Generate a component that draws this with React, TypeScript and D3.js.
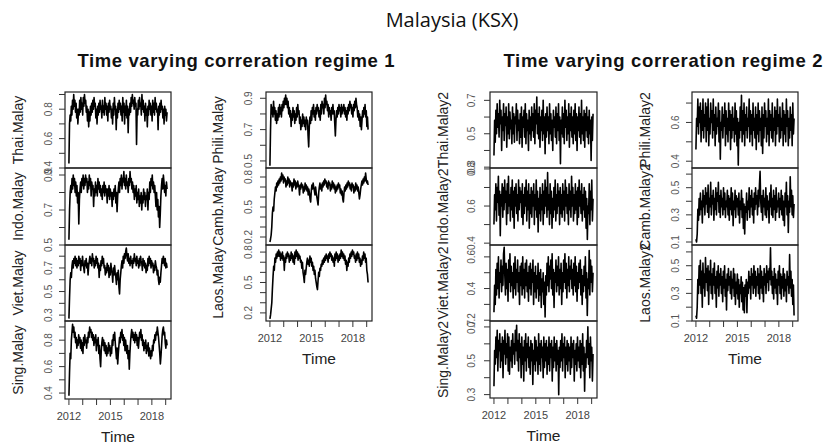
import React from 'react';
import * as d3 from 'd3';

// series run from the start of 2012 to early 2019
const timeStart = 2012;
const timeEnd = 2019.1;
const yearTicks = [2012, 2013, 2014, 2015, 2016, 2017, 2018, 2019];
const yearLabels = [2012, 2015, 2018];

// regime 1
const thai1 = [.43, .70, .76, .72, .82, .76, .86, .80, .90, .82, .86, .78, .84, .74, .80, .70, .80, .76, .86, .78, .88, .80, .84, .76, .88, .82, .90, .84, .86, .78, .82, .72, .80, .68, .78, .72, .82, .76, .84, .78, .86, .80, .88, .82, .84, .74, .80, .70, .82, .76, .84, .78, .86, .80, .82, .74, .86, .78, .82, .76, .88, .80, .84, .76, .82, .72, .84, .78, .86, .80, .82, .74, .80, .70, .84, .76, .88, .80, .82, .66, .80, .74, .84, .78, .86, .80, .84, .76, .82, .72, .88, .78, .84, .70, .82, .76, .86, .74, .82, .64, .80, .76, .84, .78, .88, .82, .90, .84, .86, .80, .88, .82, .84, .56, .80, .76, .86, .80, .88, .82, .84, .76, .90, .80, .86, .78, .82, .72, .84, .76, .80, .68, .82, .76, .86, .80, .84, .76, .82, .72, .86, .78, .84, .76, .88, .80, .84, .78, .80, .66, .82, .76, .84, .78, .86, .80, .82, .74, .80, .70, .82, .76, .80, .72, .78];
const indo1 = [.53, .70, .80, .84, .80, .88, .82, .90, .84, .88, .80, .86, .78, .84, .74, .80, .62, .76, .82, .86, .80, .88, .84, .90, .82, .88, .84, .90, .86, .88, .80, .86, .82, .90, .84, .88, .78, .86, .82, .84, .72, .82, .78, .86, .80, .84, .78, .88, .82, .86, .80, .84, .78, .82, .76, .84, .80, .86, .78, .84, .80, .82, .74, .82, .78, .84, .76, .82, .78, .80, .72, .80, .76, .82, .78, .84, .74, .80, .69, .78, .82, .86, .80, .88, .84, .90, .82, .88, .86, .92, .84, .88, .82, .90, .84, .86, .80, .88, .84, .92, .86, .88, .82, .86, .80, .84, .76, .82, .78, .84, .74, .80, .76, .82, .72, .78, .74, .80, .70, .78, .74, .82, .76, .80, .72, .78, .76, .82, .70, .80, .76, .86, .80, .88, .84, .90, .82, .86, .80, .84, .78, .72, .80, .70, .76, .66, .72, .60, .68, .78, .84, .88, .82, .90, .86, .80, .84, .78, .86, .82];
const viet1 = [.27, .45, .60, .66, .62, .72, .76, .70, .78, .74, .80, .72, .78, .70, .76, .72, .80, .74, .78, .68, .76, .72, .80, .74, .70, .66, .76, .72, .78, .70, .74, .64, .72, .76, .80, .74, .78, .72, .82, .76, .78, .70, .76, .72, .80, .74, .78, .70, .74, .62, .72, .68, .76, .72, .80, .74, .78, .70, .72, .64, .70, .66, .74, .68, .72, .62, .70, .64, .74, .68, .66, .58, .70, .64, .72, .66, .62, .56, .66, .60, .68, .54, .48, .60, .66, .72, .76, .70, .80, .74, .82, .78, .84, .87, .80, .76, .82, .74, .78, .72, .80, .74, .76, .70, .78, .74, .82, .76, .78, .72, .80, .74, .76, .70, .78, .72, .80, .76, .74, .68, .78, .72, .76, .70, .74, .66, .72, .68, .78, .72, .80, .74, .78, .70, .76, .72, .74, .66, .72, .68, .76, .72, .70, .64, .68, .60, .56, .62, .58, .66, .72, .78, .74, .80, .76, .72, .78, .70, .74, .70];
const sing1 = [.38, .56, .70, .66, .80, .86, .92, .86, .90, .82, .86, .78, .82, .74, .80, .76, .84, .78, .82, .74, .80, .72, .78, .70, .82, .76, .84, .78, .80, .74, .82, .78, .86, .82, .90, .86, .88, .82, .86, .80, .84, .76, .82, .78, .84, .72, .80, .76, .82, .70, .76, .66, .60, .72, .78, .82, .76, .80, .72, .78, .70, .76, .68, .74, .70, .78, .72, .76, .68, .74, .70, .80, .76, .84, .80, .86, .78, .72, .66, .74, .62, .70, .76, .82, .78, .86, .82, .88, .80, .84, .76, .82, .72, .80, .74, .70, .76, .66, .72, .58, .70, .78, .84, .88, .82, .86, .80, .84, .78, .86, .80, .84, .76, .82, .74, .80, .86, .82, .88, .80, .84, .76, .80, .72, .78, .74, .80, .70, .76, .72, .78, .68, .74, .70, .66, .72, .68, .76, .72, .80, .78, .84, .80, .86, .84, .90, .86, .82, .76, .70, .62, .68, .76, .84, .88, .90, .84, .86, .78, .74, .80, .76];
const phili1 = [.47, .70, .86, .80, .84, .78, .88, .80, .84, .76, .82, .74, .80, .76, .84, .78, .86, .80, .84, .78, .86, .82, .88, .84, .90, .86, .92, .86, .90, .84, .88, .80, .84, .78, .82, .72, .80, .76, .84, .78, .82, .74, .80, .76, .84, .78, .86, .80, .82, .74, .78, .70, .76, .72, .80, .74, .78, .72, .76, .70, .78, .74, .76, .66, .59, .72, .78, .74, .82, .76, .84, .80, .86, .78, .82, .76, .84, .80, .86, .82, .84, .78, .82, .76, .86, .80, .88, .84, .86, .80, .90, .84, .92, .86, .88, .82, .86, .78, .84, .80, .82, .76, .84, .80, .86, .80, .82, .74, .66, .76, .82, .78, .84, .80, .86, .82, .84, .78, .86, .80, .84, .82, .86, .80, .84, .78, .82, .76, .84, .80, .86, .82, .88, .84, .86, .80, .84, .78, .86, .82, .88, .84, .90, .86, .84, .78, .82, .76, .80, .72, .78, .70, .76, .82, .78, .84, .80, .86, .78, .82, .72, .78, .70];
const camb1 = [.15, .18, .22, .30, .44, .50, .46, .58, .64, .70, .66, .74, .70, .76, .72, .78, .74, .80, .76, .84, .78, .82, .74, .80, .76, .78, .70, .76, .72, .80, .74, .78, .70, .76, .72, .74, .66, .74, .70, .78, .72, .76, .68, .74, .70, .76, .72, .70, .62, .72, .68, .74, .70, .72, .64, .70, .66, .74, .68, .72, .66, .70, .62, .68, .64, .58, .55, .66, .72, .68, .74, .70, .66, .62, .70, .64, .60, .56, .52, .64, .70, .74, .68, .72, .66, .74, .70, .76, .72, .78, .74, .76, .70, .74, .68, .76, .72, .74, .66, .72, .68, .76, .70, .74, .68, .72, .64, .70, .66, .72, .68, .74, .70, .72, .64, .68, .62, .66, .58, .55, .64, .70, .66, .72, .68, .74, .70, .76, .72, .74, .68, .72, .66, .74, .70, .72, .64, .70, .66, .74, .68, .72, .66, .70, .64, .58, .62, .68, .72, .76, .72, .78, .74, .80, .76, .84, .78, .74, .76, .72];
const laos1 = [.14, .18, .24, .30, .44, .56, .66, .62, .74, .70, .78, .74, .80, .76, .82, .76, .80, .72, .78, .74, .80, .72, .76, .62, .74, .70, .78, .74, .80, .76, .78, .70, .76, .72, .80, .74, .78, .70, .76, .68, .80, .74, .82, .76, .80, .72, .78, .74, .76, .70, .72, .64, .70, .60, .56, .50, .62, .58, .64, .70, .74, .68, .72, .66, .76, .70, .74, .66, .70, .62, .66, .58, .62, .54, .50, .46, .43, .52, .60, .56, .64, .62, .68, .66, .72, .68, .74, .70, .76, .72, .78, .74, .76, .70, .78, .74, .80, .76, .78, .72, .76, .70, .74, .66, .78, .72, .80, .74, .78, .70, .76, .72, .78, .74, .82, .76, .80, .74, .78, .72, .76, .68, .72, .62, .70, .66, .74, .70, .78, .74, .80, .76, .82, .78, .80, .74, .76, .70, .78, .72, .80, .74, .78, .70, .74, .66, .72, .68, .76, .72, .80, .74, .78, .70, .74, .62, .58, .50];

// regime 2
const thai2 = [.37, .58, .45, .64, .50, .68, .54, .62, .48, .70, .56, .64, .40, .60, .52, .68, .46, .62, .55, .66, .42, .60, .50, .68, .47, .63, .53, .58, .44, .66, .50, .62, .45, .60, .56, .68, .46, .64, .52, .58, .44, .62, .48, .66, .42, .60, .54, .64, .48, .68, .44, .62, .52, .58, .40, .64, .50, .60, .46, .66, .52, .62, .48, .68, .44, .64, .56, .72, .50, .62, .47, .66, .42, .60, .52, .64, .46, .70, .50, .60, .38, .62, .48, .66, .52, .60, .44, .68, .50, .62, .46, .58, .40, .64, .54, .60, .48, .66, .44, .62, .52, .68, .46, .60, .32, .58, .50, .66, .48, .62, .44, .70, .54, .64, .46, .60, .50, .68, .42, .62, .52, .66, .48, .60, .44, .64, .50, .68, .46, .62, .40, .60, .52, .66, .48, .62, .44, .70, .50, .60, .46, .64, .42, .62, .52, .66, .48, .60, .44, .64, .50, .58, .34, .60, .46, .62];
const indo2 = [.50, .66, .58, .72, .52, .70, .62, .76, .55, .68, .44, .66, .60, .72, .54, .70, .58, .74, .62, .68, .50, .72, .56, .76, .60, .66, .52, .70, .58, .74, .54, .68, .48, .70, .60, .72, .56, .66, .52, .74, .58, .70, .62, .68, .54, .72, .50, .66, .56, .70, .60, .74, .52, .68, .58, .72, .48, .66, .56, .70, .54, .68, .60, .72, .50, .66, .58, .74, .54, .68, .46, .64, .56, .70, .52, .66, .58, .72, .50, .68, .56, .74, .60, .70, .54, .78, .58, .66, .50, .72, .56, .68, .48, .64, .54, .70, .58, .74, .52, .66, .56, .72, .60, .68, .50, .70, .56, .66, .54, .72, .58, .68, .52, .74, .60, .70, .56, .66, .50, .72, .58, .68, .54, .76, .60, .70, .52, .66, .56, .72, .58, .68, .50, .70, .54, .74, .60, .68, .56, .72, .52, .66, .58, .70, .54, .68, .48, .64, .42, .60, .56, .72, .50, .68, .58, .74, .52, .64];
const viet2 = [.25, .42, .30, .52, .36, .56, .40, .60, .34, .50, .44, .58, .38, .54, .42, .62, .66, .48, .36, .56, .40, .52, .32, .58, .44, .62, .38, .54, .42, .50, .34, .56, .40, .60, .36, .52, .44, .58, .38, .50, .30, .54, .42, .56, .36, .60, .40, .52, .34, .56, .42, .58, .38, .50, .32, .54, .40, .56, .36, .52, .44, .58, .30, .50, .38, .54, .34, .48, .40, .56, .32, .50, .36, .52, .28, .46, .38, .50, .30, .44, .22, .48, .36, .56, .42, .60, .38, .54, .46, .58, .40, .62, .36, .52, .28, .50, .44, .58, .38, .54, .42, .60, .36, .52, .40, .56, .30, .50, .38, .58, .44, .62, .40, .56, .34, .52, .42, .60, .38, .54, .46, .58, .40, .52, .36, .56, .42, .60, .38, .54, .32, .50, .40, .56, .44, .58, .36, .52, .30, .48, .38, .54, .42, .60, .34, .50, .23, .46, .40, .64, .36, .58, .44, .54, .38, .50];
const sing2 = [.35, .56, .48, .64, .52, .68, .44, .62, .56, .66, .46, .60, .50, .64, .40, .62, .54, .68, .48, .60, .52, .66, .44, .64, .42, .58, .50, .62, .46, .66, .54, .60, .48, .68, .56, .71, .50, .62, .44, .66, .52, .60, .40, .64, .48, .58, .38, .62, .50, .66, .44, .60, .52, .64, .46, .58, .42, .62, .50, .60, .36, .56, .48, .64, .44, .62, .50, .58, .42, .66, .48, .60, .44, .62, .52, .58, .40, .64, .46, .60, .50, .62, .42, .58, .48, .64, .44, .60, .52, .62, .38, .58, .46, .64, .50, .60, .44, .62, .48, .56, .30, .58, .46, .62, .50, .66, .44, .60, .52, .64, .40, .58, .48, .62, .44, .60, .50, .58, .42, .64, .46, .60, .52, .62, .38, .56, .48, .60, .44, .64, .50, .58, .46, .62, .40, .60, .48, .66, .44, .58, .32, .54, .46, .62, .52, .70, .48, .60, .40, .64, .50, .58, .38, .54];
const phili2 = [.46, .62, .58, .72, .54, .68, .60, .70, .50, .66, .56, .72, .52, .64, .58, .70, .50, .68, .56, .72, .48, .62, .54, .70, .60, .66, .52, .72, .56, .64, .48, .68, .54, .62, .58, .70, .50, .66, .41, .60, .56, .68, .52, .64, .58, .70, .48, .66, .54, .62, .50, .70, .56, .66, .46, .64, .52, .68, .56, .62, .50, .70, .54, .66, .48, .62, .38, .60, .52, .68, .56, .74, .50, .66, .54, .70, .48, .64, .56, .68, .52, .62, .58, .72, .50, .66, .54, .64, .48, .70, .56, .62, .52, .68, .46, .64, .54, .70, .50, .66, .56, .62, .48, .68, .44, .64, .52, .70, .58, .66, .50, .62, .54, .72, .48, .66, .56, .64, .52, .70, .50, .62, .56, .68, .48, .66, .54, .72, .58, .64, .50, .68, .52, .62, .56, .70, .48, .66, .54, .64, .50, .72, .58, .66, .48, .62, .52, .68, .56, .64, .48, .70, .54, .62];
const camb2 = [.12, .10, .16, .34, .26, .42, .30, .46, .34, .40, .24, .48, .36, .44, .30, .50, .38, .46, .32, .52, .28, .42, .36, .54, .30, .44, .38, .48, .26, .42, .34, .50, .30, .46, .40, .54, .32, .44, .28, .48, .36, .42, .30, .50, .34, .46, .28, .40, .36, .48, .30, .44, .26, .42, .34, .50, .30, .46, .22, .40, .34, .48, .28, .44, .36, .42, .30, .46, .24, .40, .34, .48, .28, .42, .20, .38, .16, .36, .32, .46, .26, .40, .34, .50, .28, .44, .36, .48, .30, .42, .24, .46, .34, .50, .38, .44, .30, .48, .36, .52, .62, .40, .32, .44, .26, .48, .36, .42, .30, .50, .28, .44, .34, .40, .24, .46, .36, .52, .30, .42, .28, .48, .34, .44, .26, .50, .32, .40, .36, .46, .28, .42, .34, .48, .30, .44, .26, .40, .22, .46, .36, .54, .30, .44, .17, .40, .32, .58, .36, .48, .30, .44, .28, .38];
const laos2 = [.14, .12, .20, .40, .30, .50, .36, .54, .30, .46, .20, .52, .34, .44, .28, .56, .38, .48, .32, .50, .22, .46, .36, .54, .30, .44, .26, .48, .36, .52, .30, .42, .20, .46, .34, .50, .28, .44, .36, .48, .30, .42, .24, .46, .34, .50, .28, .40, .18, .44, .32, .48, .36, .42, .30, .46, .26, .40, .34, .48, .28, .44, .22, .38, .30, .44, .26, .40, .20, .36, .30, .42, .24, .38, .18, .34, .16, .36, .28, .40, .16, .38, .30, .46, .34, .42, .26, .48, .36, .44, .30, .50, .34, .46, .28, .42, .36, .48, .30, .44, .26, .50, .34, .46, .30, .42, .24, .48, .36, .44, .30, .50, .38, .46, .32, .48, .40, .63, .36, .46, .30, .42, .26, .48, .34, .44, .30, .40, .22, .46, .36, .50, .30, .44, .26, .42, .34, .48, .28, .44, .32, .40, .24, .46, .36, .42, .30, .58, .34, .46, .28, .40, .22, .36, .14];

const font = '"Liberation Sans", Arial, sans-serif';

// one column of stacked panels
const columns = [
  {
    x0: 65, x1: 171, labelX: 23, tickX: 52, rows: [92, 168, 245, 321, 399],
    panels: [
      { name: 'Thai.Malay', data: thai1, domain: [0.4, 0.917], labels: [0.4, 0.6, 0.8] },
      { name: 'Indo.Malay', data: indo1, domain: [0.5, 0.94], labels: [0.5, 0.7, 0.9] },
      { name: 'Viet.Malay', data: viet1, domain: [0.25, 0.895], labels: [0.3, 0.5, 0.7] },
      { name: 'Sing.Malay', data: sing1, domain: [0.355, 0.945], labels: [0.4, 0.6, 0.8] },
    ],
  },
  {
    x0: 266, x1: 372, labelX: 223, tickX: 252, rows: [92, 168, 245, 321],
    panels: [
      { name: 'Phili.Malay', data: phili1, domain: [0.455, 0.94], labels: [0.5, 0.7, 0.9] },
      { name: 'Camb.Malay', data: camb1, domain: [0.12, 0.89], labels: [0.2, 0.5, 0.8] },
      { name: 'Laos.Malay', data: laos1, domain: [0.12, 0.87], labels: [0.2, 0.5, 0.8] },
    ],
  },
  {
    x0: 490, x1: 597, labelX: 448, tickX: 475, rows: [92, 168, 245, 321, 398],
    panels: [
      { name: 'Thai.Malay2', data: thai2, domain: [0.295, 0.75], labels: [0.3, 0.5, 0.7] },
      { name: 'Indo.Malay2', data: indo2, domain: [0.39, 0.805], labels: [0.4, 0.6, 0.8] },
      { name: 'Viet.Malay2', data: viet2, domain: [0.195, 0.675], labels: [0.2, 0.4, 0.6] },
      { name: 'Sing.Malay2', data: sing2, domain: [0.28, 0.735], labels: [0.3, 0.5, 0.7] },
    ],
  },
  {
    x0: 692, x1: 798, labelX: 650, tickX: 679, rows: [92, 168, 245, 321],
    panels: [
      { name: 'Phili.Malay2', data: phili2, domain: [0.365, 0.757], labels: [0.4, 0.6] },
      { name: 'Camb.Malay2', data: camb2, domain: [0.078, 0.645], labels: [0.1, 0.3, 0.5] },
      { name: 'Laos.Malay2', data: laos2, domain: [0.1, 0.65], labels: [0.1, 0.3, 0.5] },
    ],
  },
];

function Column({ col }) {
  const pad = (timeEnd - timeStart) * 0.04;
  const x = d3.scaleLinear().domain([timeStart - pad, timeEnd + pad]).range([col.x0, col.x1]);
  const bottom = col.rows[col.rows.length - 1];
  return (
    <g>
      {col.panels.map((p, i) => {
        const top = col.rows[i];
        const bot = col.rows[i + 1];
        const y = d3.scaleLinear().domain(p.domain).range([bot, top]);
        const n = p.data.length;
        const line = d3
          .line<number>()
          .x((_, j) => x(timeStart + (j * (timeEnd - timeStart)) / (n - 1)))
          .y((d) => y(d));
        const ticks = d3
          .range(Math.ceil(p.domain[0] * 10 - 0.05), Math.floor(p.domain[1] * 10 + 0.001) + 1)
          .map((v) => v / 10);
        return (
          <g key={p.name}>
            <path d={line(p.data)} fill='none' stroke='#000' strokeWidth={1.6} strokeLinejoin='round' />
            <rect x={col.x0} y={top} width={col.x1 - col.x0} height={bot - top} fill='none' stroke='#222' strokeWidth={1.2} />
            {ticks.map((t) => (
              <line key={t} x1={col.x0 - 6} x2={col.x0} y1={y(t)} y2={y(t)} stroke='#333' strokeWidth={1} />
            ))}
            {p.labels.map((t) => (
              <text
                key={t}
                transform={`translate(${col.tickX},${y(t)}) rotate(-90)`}
                textAnchor='middle'
                fontSize={10}
                fill='#555'
                fontFamily={font}
              >
                {t.toFixed(1)}
              </text>
            ))}
            <text
              transform={`translate(${col.labelX},${(top + bot) / 2}) rotate(-90)`}
              textAnchor='middle'
              fontSize={14}
              fill='#222'
              fontFamily={font}
            >
              {p.name}
            </text>
          </g>
        );
      })}
      {yearTicks.map((t) => (
        <line key={t} x1={x(t)} x2={x(t)} y1={bottom} y2={bottom + 6} stroke='#333' strokeWidth={1} />
      ))}
      {yearLabels.map((t) => (
        <text key={t} x={x(t)} y={bottom + 21} textAnchor='middle' fontSize={11} fill='#444' fontFamily={font}>
          {t}
        </text>
      ))}
      <text x={(col.x0 + col.x1) / 2} y={bottom + 43} textAnchor='middle' fontSize={15.5} fill='#222' fontFamily={font}>
        Time
      </text>
    </g>
  );
}

export default function App() {
  return (
    <svg width={826} height={446} style={{ position: 'absolute', left: 0, top: 0, background: '#fff' }}>
      <rect width={826} height={446} fill='#fff' />
      <text x={452} y={27} textAnchor='middle' fontSize={20} fill='#111' fontFamily='"Open Sans", "Noto Sans", sans-serif'>
        Malaysia (KSX)
      </text>
      <text x={236} y={67} textAnchor='middle' fontSize={18.5} fontWeight='bold' fill='#111' fontFamily={font} textLength={317} lengthAdjust='spacing'>
        Time varying correration regime 1
      </text>
      <text x={663} y={67} textAnchor='middle' fontSize={18.5} fontWeight='bold' fill='#111' fontFamily={font} textLength={319} lengthAdjust='spacing'>
        Time varying correration regime 2
      </text>
      {columns.map((c, i) => (
        <Column key={i} col={c} />
      ))}
    </svg>
  );
}
